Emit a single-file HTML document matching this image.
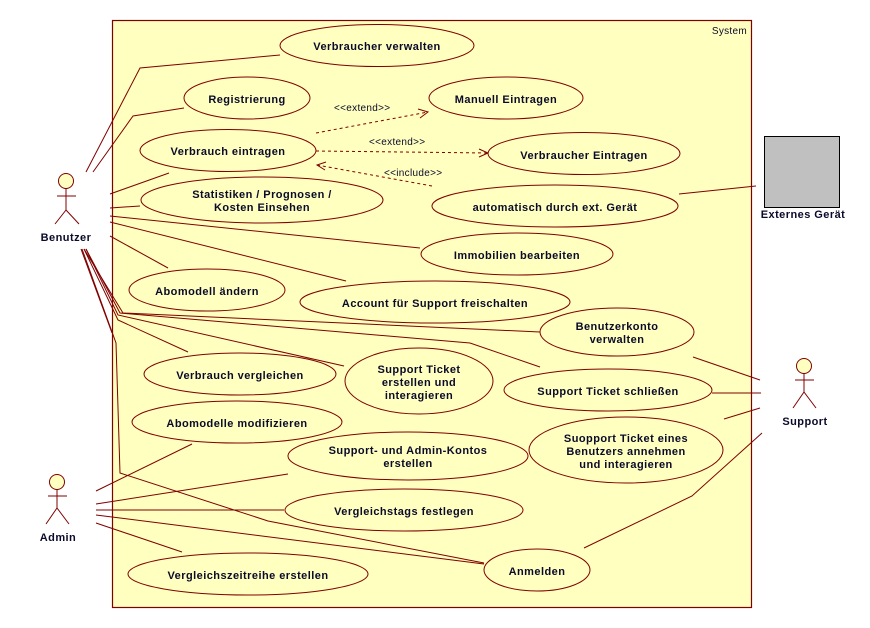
<!DOCTYPE html>
<html><head><meta charset="utf-8"><style>
html,body{margin:0;padding:0;background:#fff;}
svg{display:block;}
.b{font:bold 11px "Liberation Sans",sans-serif;fill:#0a0a2a;text-anchor:middle;letter-spacing:0.45px;}
.n{font:10px "Liberation Sans",sans-serif;fill:#0a0a2a;letter-spacing:0.3px;}
</style></head><body>
<svg width="870" height="628" viewBox="0 0 870 628" xmlns="http://www.w3.org/2000/svg">
<rect x="112.5" y="20.5" width="639" height="587" fill="#ffffc0" stroke="#800000" stroke-width="1.2"/>
<text class="n" x="747" y="34" text-anchor="end">System</text>
<g fill="none" stroke="#800000" stroke-width="1">
<polyline points="86,172 140,68 280,55"/>
<polyline points="93,172 133,116 184,108"/>
<line x1="110" y1="194" x2="169" y2="173"/>
<line x1="110" y1="208" x2="140" y2="206"/>
<line x1="110" y1="216" x2="420" y2="248"/>
<line x1="110" y1="222" x2="346" y2="281"/>
<line x1="110" y1="236" x2="168" y2="268"/>
<polyline points="84,249 123,313 540,332"/>
<polyline points="86,249 120,313 470,343 540,367"/>
<polyline points="86,249 118,315 344,366"/>
<polyline points="84,249 118,320 188,352"/>
<polyline points="82,249 116,343 120,473 268,521 484,563"/>
<line x1="81" y1="249" x2="112" y2="333"/>
<line x1="96" y1="491" x2="192" y2="444"/>
<line x1="96" y1="504" x2="288" y2="474"/>
<line x1="96" y1="510" x2="284" y2="510"/>
<line x1="96" y1="515" x2="484" y2="564"/>
<line x1="96" y1="523" x2="182" y2="552"/>
<line x1="693" y1="357" x2="760" y2="380"/>
<line x1="712" y1="393" x2="761" y2="393"/>
<line x1="724" y1="419" x2="760" y2="408"/>
<polyline points="762,433 692,496 584,548"/>
<line x1="679" y1="194" x2="756" y2="186"/>
<g stroke-dasharray="3,3">
<line x1="316" y1="133" x2="428" y2="112"/>
<line x1="316" y1="151" x2="488" y2="153"/>
<line x1="432" y1="186" x2="317" y2="165"/>
</g>
<polyline points="418,109 428,112 420,118"/>
<polyline points="479,149 488,153 479,157"/>
<polyline points="326,162 317,165 325,170"/>
</g>
<text class="n" x="334" y="111">&lt;&lt;extend&gt;&gt;</text>
<text class="n" x="369" y="145">&lt;&lt;extend&gt;&gt;</text>
<text class="n" x="384" y="176">&lt;&lt;include&gt;&gt;</text>
<g fill="#ffffc0" stroke="#800000" stroke-width="1">
<ellipse cx="377" cy="45.5" rx="97" ry="21"/>
<ellipse cx="247" cy="98" rx="63" ry="21"/>
<ellipse cx="506" cy="98" rx="77" ry="21"/>
<ellipse cx="228" cy="150.5" rx="88" ry="21"/>
<ellipse cx="584" cy="153.5" rx="96" ry="21"/>
<ellipse cx="262" cy="200" rx="121" ry="23"/>
<ellipse cx="555" cy="206" rx="123" ry="21"/>
<ellipse cx="517" cy="254" rx="96" ry="21"/>
<ellipse cx="207" cy="290" rx="78" ry="21"/>
<ellipse cx="435" cy="302" rx="135" ry="21"/>
<ellipse cx="617" cy="332" rx="77" ry="24"/>
<ellipse cx="240" cy="374" rx="96" ry="21"/>
<ellipse cx="419" cy="381" rx="74" ry="33"/>
<ellipse cx="608" cy="390" rx="104" ry="21"/>
<ellipse cx="237" cy="422" rx="105" ry="21"/>
<ellipse cx="408" cy="456" rx="120" ry="24"/>
<ellipse cx="626" cy="450" rx="97" ry="33"/>
<ellipse cx="404" cy="510" rx="119" ry="21"/>
<ellipse cx="248" cy="574" rx="120" ry="21"/>
<ellipse cx="537" cy="570" rx="53" ry="21"/>
</g>
<g class="b">
<text x="377" y="50">Verbraucher verwalten</text>
<text x="247" y="103">Registrierung</text>
<text x="506" y="103">Manuell Eintragen</text>
<text x="228" y="155">Verbrauch eintragen</text>
<text x="584" y="159">Verbraucher Eintragen</text>
<text x="262" y="198">Statistiken / Prognosen /</text>
<text x="262" y="211">Kosten Einsehen</text>
<text x="555" y="211">automatisch durch ext. Gerät</text>
<text x="517" y="259">Immobilien bearbeiten</text>
<text x="207" y="295">Abomodell ändern</text>
<text x="435" y="307">Account für Support freischalten</text>
<text x="617" y="330">Benutzerkonto</text>
<text x="617" y="343">verwalten</text>
<text x="240" y="379">Verbrauch vergleichen</text>
<text x="419" y="373">Support Ticket</text>
<text x="419" y="386">erstellen und</text>
<text x="419" y="399">interagieren</text>
<text x="608" y="395">Support Ticket schließen</text>
<text x="237" y="427">Abomodelle modifizieren</text>
<text x="408" y="454">Support- und Admin-Kontos</text>
<text x="408" y="467">erstellen</text>
<text x="626" y="442">Suopport Ticket eines</text>
<text x="626" y="455">Benutzers annehmen</text>
<text x="626" y="468">und interagieren</text>
<text x="404" y="515">Vergleichstags festlegen</text>
<text x="248" y="579">Vergleichszeitreihe erstellen</text>
<text x="537" y="575">Anmelden</text>
</g>
<g fill="#ffffc0" stroke="#800000" stroke-width="1">
<circle cx="66" cy="181" r="7.5"/>
<path d="M66 188.5V210M57 196H76M66 210L55 224M66 210L79 224" fill="none"/>
<circle cx="57" cy="482" r="7.5"/>
<path d="M57 489.5V508M48 496H67M57 508L46 524M57 508L69 524" fill="none"/>
<circle cx="804" cy="366" r="7.5"/>
<path d="M804 373.5V392M795 380H814M804 392L793 408M804 392L816 408" fill="none"/>
</g>
<rect x="764.5" y="136.5" width="75" height="71" fill="#c0c0c0" stroke="#000" stroke-width="1"/>
<g class="b">
<text x="66" y="241">Benutzer</text>
<text x="58" y="541">Admin</text>
<text x="805" y="425">Support</text>
<text x="803" y="218">Externes Gerät</text>
</g>
</svg>
</body></html>
